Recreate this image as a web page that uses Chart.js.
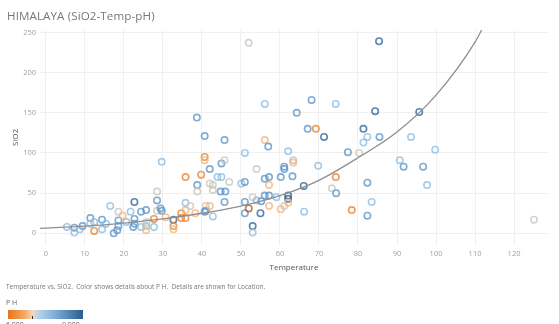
<!DOCTYPE html>
<html><head><meta charset="utf-8">
<script src="https://cdn.jsdelivr.net/npm/chart.js@4.4.1/dist/chart.umd.min.js"></script>
<style>
html,body{margin:0;padding:0;background:#fff;width:559px;height:324px;overflow:hidden;font-family:"Open Sans",Lato,sans-serif;}
#wrap{position:absolute;left:0;top:0;width:559px;height:324px;}
#title{position:absolute;left:7px;top:8px;font-size:11.6px;color:#777;white-space:nowrap;letter-spacing:0.1px;}
#caption{position:absolute;left:6px;top:282px;font-size:6.5px;color:#777;white-space:nowrap;}
#phlab{position:absolute;left:6px;top:298px;font-size:7px;color:#666;}
#bar{position:absolute;left:8px;top:310px;width:75px;height:9px;background:linear-gradient(to right,#e8731c 0%,#f6a863 22%,#f4d8b8 33%,#b9d3ea 40%,#7fb0da 62%,#2b5b8f 100%);}
#tick{position:absolute;left:32px;top:316px;width:1px;height:3px;background:#333;}
#l1{position:absolute;left:6px;top:320px;font-size:7px;color:#666;}
#l2{position:absolute;left:62px;top:320px;font-size:7px;color:#666;}
</style></head>
<body>
<div id="wrap"><canvas id="c" width="559" height="324"></canvas></div>
<div id="title">HIMALAYA (SiO2-Temp-pH)</div>
<div id="caption">Temperature vs. SiO2.&nbsp; Color shows details about P H.&nbsp; Details are shown for Location.</div>
<div id="phlab">P H</div>
<div id="bar"></div><div id="tick"></div>
<div id="l1">6.000</div><div id="l2">9.000</div>
<script>
// Data
const temperature = [5.4,7.3,7.3,8.7,9.4,11.4,11.4,12.4,12.4,14.4,14.4,15.4,16.5,17.4,18.6,18.6,18.3,18.6,19.7,20.6,21.7,22.7,22.7,22.7,22.4,24.4,24.4,25.7,25.7,25.7,25.8,27.7,27.7,28.5,28.5,28.5,29.4,29.7,29.7,30.7,32.7,32.7,32.7,34.7,35.8,34.7,35.8,35.8,35.8,37,38.3,38.7,38.8,38.8,39.8,40.7,40.7,40.7,41,41,42,42,42,42.8,42.8,42.8,44,45,45,44.8,46,45.8,45.8,45.8,47,50.1,51,51,51,51,52,52,53,53,53,54,54,55.2,55,56.1,56.1,57,56.1,57.2,57.2,56.1,57.2,57.2,59.1,60.2,60.2,61.1,61.1,61.1,62.1,62.1,62.1,62.1,63.4,63.4,63.2,64.3,66.1,66.2,67.1,68.1,69.2,69.8,71.3,73.3,74.3,74.3,74.4,77.4,78.4,80.3,81.4,81.4,82.4,82.4,82.4,83.5,84.4,85.4,85.5,90.7,91.7,93.6,95.7,96.7,97.7,99.8,125.1,40.7];
const sio2 = [8,7,1,5,9,19,12,14,3,17,5,12,34,0,16,9,4,27,22,14,27,39,18,12,8,27,8,29,9,4,14,18,8,52,41,28,31,28,89,20,17,9,5,19,19,25,29,38,70,34,25,144,60,52,73,121,95,91,34,28,34,80,62,60,54,21,70,70,87,52,52,116,91,39,64,62,64,100,39,25,237,31,45,9,1,80,41,40,25,161,116,108,68,70,60,47,47,34,45,70,30,83,80,34,102,47,43,38,91,88,71,150,59,27,130,166,130,84,120,56,161,70,50,101,29,100,130,113,120,63,22,39,152,239,120,91,83,120,151,83,60,104,17,27];
const ph = [8.2,8.7,8.2,8.2,8.7,8.7,8.2,8.2,6.6,8.7,8.2,8.2,8.2,8.7,8.7,8.7,8.7,7.6,7.1,8.2,8.2,9.3,8.7,8.7,8.7,8.7,8.2,8.7,8.2,7.1,7.6,6.6,8.2,7.6,8.7,7.6,8.7,8.7,8.2,7.1,9.3,6.6,7.1,6.6,6.6,6.6,7.1,8.2,6.6,7.6,7.1,8.7,8.7,7.6,6.6,8.7,6.6,7.1,7.6,8.7,7.1,8.7,7.6,7.6,7.6,8.2,8.2,8.2,8.7,8.7,8.7,8.7,7.6,8.7,7.6,8.2,8.7,8.2,8.7,8.7,7.6,6.2,7.6,9.3,8.2,7.6,8.2,8.7,9.3,8.2,7.1,8.7,8.7,8.7,7.1,8.7,8.7,7.1,8.2,8.7,7.1,8.7,8.7,7.6,8.2,9.3,9.3,7.1,7.9,7.1,8.7,8.7,9.3,8.2,8.7,8.7,6.6,8.2,9.3,7.6,8.2,6.6,8.7,8.7,6.6,7.6,9.3,8.2,8.2,8.7,8.7,8.2,9.3,9.3,8.7,8.2,8.7,8.2,9.3,8.7,8.2,8.2,7.6,8.7];
// Trend line values
const trendX = [-1.5,10,20,30,40,50,60,70,80,90,100,110,114];
const trendY = [6.3,9,12.8,18,25,34,47,66,94,126,172,238,275];
const xTicks = [0,10,20,30,40,50,60,70,80,90,100,110,120];
const yTicks = [0,50,100,150,200,250];

const stops = [[6.2,[184,90,28]],[6.6,[232,130,46]],[7.1,[243,180,122]],[7.6,[201,198,190]],[8.2,[143,189,224]],[8.7,[91,149,200]],[9.3,[46,99,153]]];
function phColor(v){
  if(v<=stops[0][0]) return stops[0][1];
  for(let i=1;i<stops.length;i++){
    if(v<=stops[i][0]){
      const a=stops[i-1],b=stops[i],t=(v-a[0])/(b[0]-a[0]);
      return a[1].map((c,k)=>Math.round(c+(b[1][k]-c)*t));
    }
  }
  return stops[stops.length-1][1];
}
const pts = temperature.map((x,i)=>({x:x,y:sio2[i]}));
const cols = ph.map(v=>{const c=phColor(v);return `rgba(${c[0]},${c[1]},${c[2]},0.78)`;});

new Chart(document.getElementById('c'),{
  type:'scatter',
  data:{datasets:[
    {type:'line',data:trendX.map((x,i)=>({x:x,y:trendY[i]})),borderColor:'#8f8f8f',borderWidth:1.3,pointRadius:0,fill:false,cubicInterpolationMode:'monotone',order:0},
    {data:pts,pointRadius:3.2,pointBorderWidth:1.6,pointBackgroundColor:'rgba(255,255,255,0)',pointBorderColor:cols,order:1}
  ]},
  options:{
    responsive:false,animation:false,
    layout:{padding:{top:30,right:11,left:0,bottom:49}},
    plugins:{legend:{display:false},tooltip:{enabled:false}},
    scales:{
      x:{type:'linear',min:-1.5,max:128.7,
        afterBuildTicks:s=>{s.ticks=xTicks.map(v=>({value:v}));},
        afterFit:s=>{s.height=30;},
        grid:{color:'#f0f0f0',drawTicks:false},border:{display:false},
        ticks:{color:'#a0a0a0',font:{size:7.5,family:'"Open Sans"'},padding:4,maxRotation:0},
        title:{display:true,text:'Temperature',color:'#555',font:{size:8,family:'"Open Sans"'},padding:{top:0,bottom:2}}},
      y:{type:'linear',min:-14.5,max:253,
        afterBuildTicks:s=>{s.ticks=yTicks.map(v=>({value:v}));},
        afterFit:s=>{s.width=40;},
        grid:{color:'#f0f0f0',drawTicks:false},border:{display:false},
        ticks:{color:'#a0a0a0',font:{size:7.5,family:'"Open Sans"'},padding:4},
        title:{display:true,text:'SiO2',color:'#555',font:{size:8,family:'"Open Sans"'},padding:{top:11,bottom:0}}}
    }
  }
});
</script>
</body></html>
